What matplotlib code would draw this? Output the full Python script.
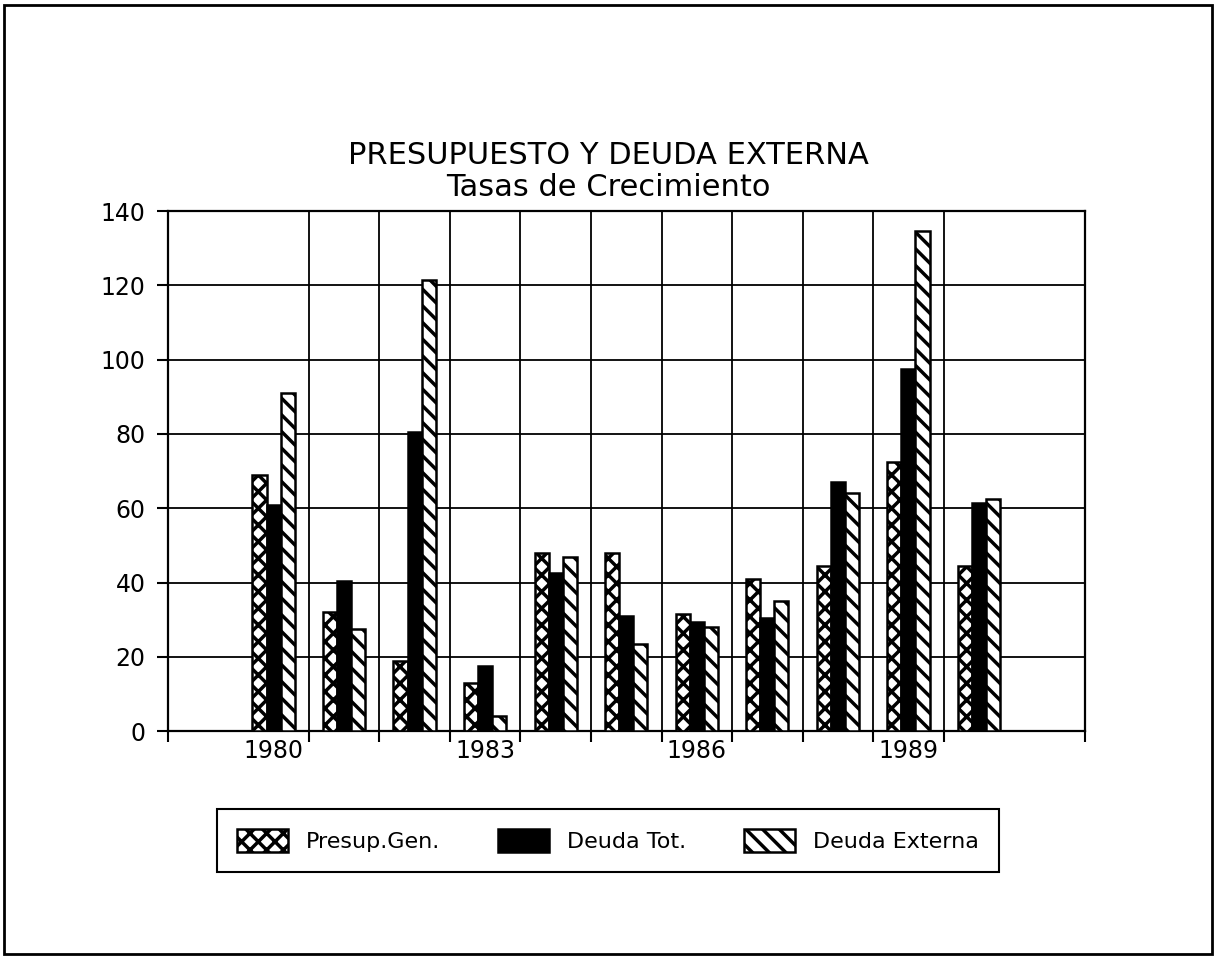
import numpy as np
import matplotlib
matplotlib.use('Agg')
import matplotlib.pyplot as plt
from matplotlib.patches import Rectangle

years = [1980, 1981, 1982, 1983, 1984, 1985, 1986, 1987, 1988, 1989, 1990]
presup_gen = [69, 32, 19, 13, 48, 48, 31.5, 41, 44.5, 72.5, 44.5]
deuda_tot = [61, 40.5, 80.5, 17.5, 42.5, 31, 29.5, 30.5, 67, 97.5, 61.5]
deuda_externa = [91, 27.5, 121.5, 4, 47, 23.5, 28, 35, 64, 134.5, 62.5]
year_labels = ['1980', '1983', '1986', '1989']
y_ticks = [0, 20, 40, 60, 80, 100, 120, 140]

plt.rcParams['hatch.linewidth'] = 2.5
plt.rcParams['font.family'] = 'DejaVu Sans'

fig = plt.figure(figsize=(12.16, 9.57), dpi=100)
ax = fig.add_axes([0.138, 0.236, 0.754, 0.5435])

x = np.arange(len(years))
w = 0.2
ax.bar(x - w, presup_gen, w, color='white', edgecolor='black', hatch='xx',
       linewidth=1.8, label='Presup.Gen.', zorder=3)
ax.bar(x, deuda_tot, w, color='black', edgecolor='black',
       linewidth=1.8, label='Deuda Tot.', zorder=3)
ax.bar(x + w, deuda_externa, w, color='white', edgecolor='black', hatch='\\\\',
       linewidth=1.8, label='Deuda Externa', zorder=3)

ax.set_xlim(-1.5, 11.5)
ax.set_ylim(0, 140)
ax.set_yticks(y_ticks)

# major ticks at the slot borders, labels on minor ticks at the slot centres
major = [-1.5] + [i + 0.5 for i in range(10)] + [11.5]
ax.set_xticks(major)
ax.set_xticklabels([''] * len(major))
label_pos = [years.index(int(s)) for s in year_labels]
ax.set_xticks(label_pos, minor=True)
ax.set_xticklabels(year_labels, minor=True)

ax.tick_params(which='major', direction='out', length=8, width=1.5, labelsize=17)
ax.tick_params(axis='y', pad=8)
ax.tick_params(axis='x', which='minor', length=0, pad=6, labelsize=17)

ax.set_axisbelow(True)
ax.grid(True, which='major', color='black', linewidth=1.3)
for s in ax.spines.values():
    s.set_linewidth(1.6)

fig.text(0.5, 0.837, 'PRESUPUESTO Y DEUDA EXTERNA', ha='center', va='center', fontsize=22)
fig.text(0.5, 0.804, 'Tasas de Crecimiento', ha='center', va='center', fontsize=22)

leg = fig.legend(loc='center', bbox_to_anchor=(0.5, 0.122), ncol=3, frameon=True,
                 fancybox=False, edgecolor='black', framealpha=1, fontsize=16,
                 handlelength=2.3, handleheight=1.2, columnspacing=2.6, borderpad=0.9)
leg.get_frame().set_linewidth(1.5)

fig.add_artist(Rectangle((0.003, 0.003), 0.994, 0.992, transform=fig.transFigure,
                         fill=False, linewidth=2, edgecolor='black'))

fig.savefig('out.png', dpi=100)
